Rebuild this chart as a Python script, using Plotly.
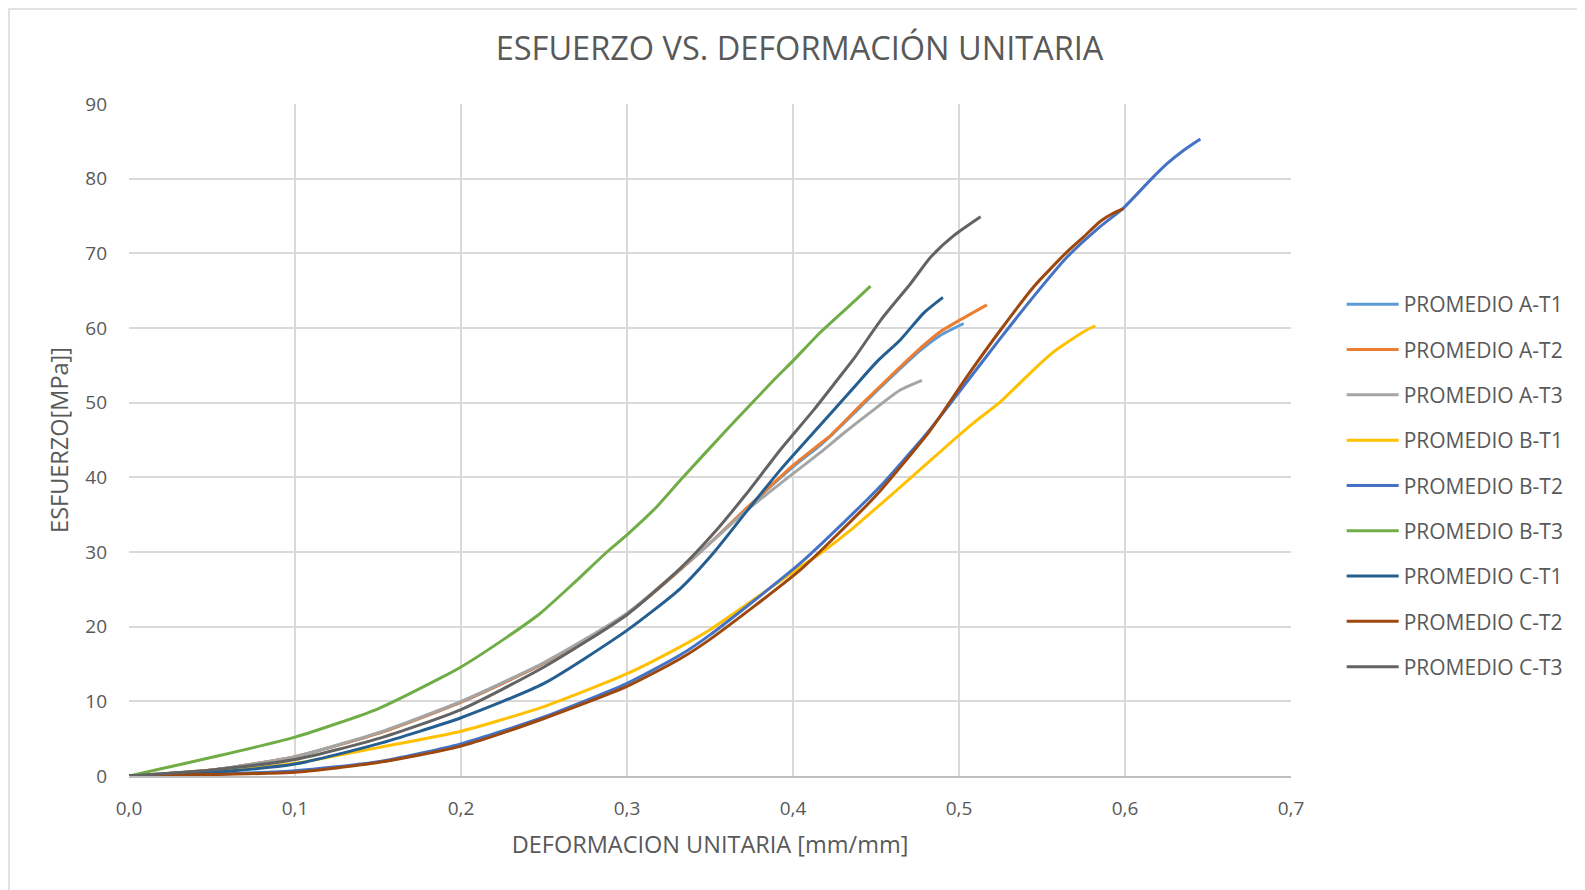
import plotly.graph_objects as go

# ---- data ----
a_t1_x = [0, 0.05, 0.1, 0.15, 0.2, 0.25, 0.3, 0.35, 0.3723, 0.4, 0.4164, 0.4225, 0.4405, 0.4586, 0.4767, 0.4887, 0.5028]
a_t1_y = [0, 0.8, 2.6, 5.7, 9.9, 15.1, 21.7, 31.2, 35.9, 41.4, 44.3, 45.5, 49.4, 53.3, 57.0, 59.0, 60.6]

a_t2_x = [0, 0.05, 0.1, 0.15, 0.2, 0.25, 0.3, 0.35, 0.3723, 0.4, 0.4164, 0.4225, 0.4405, 0.4586, 0.4767, 0.4887, 0.5008, 0.5168]
a_t2_y = [0, 0.8, 2.6, 5.7, 9.9, 15.1, 21.7, 31.2, 35.9, 41.6, 44.5, 45.6, 49.6, 53.5, 57.3, 59.5, 61.1, 63.1]

a_t3_x = [0, 0.05, 0.1, 0.15, 0.2, 0.25, 0.3, 0.35, 0.3723, 0.4, 0.4164, 0.4305, 0.4466, 0.4646, 0.4777]
a_t3_y = [0, 0.8, 2.6, 5.8, 10.0, 15.2, 21.8, 31.2, 35.6, 40.5, 43.3, 45.9, 48.7, 51.7, 53.0]

b_t1_x = [0, 0.05, 0.1, 0.15, 0.2, 0.25, 0.3, 0.332, 0.35, 0.4044, 0.4164, 0.4345, 0.4646, 0.4967, 0.5088, 0.5249, 0.5449, 0.557, 0.5751, 0.5821]
b_t1_y = [0, 0.5, 1.7, 3.8, 6.0, 9.3, 13.7, 17.3, 19.6, 28.0, 29.8, 32.9, 38.7, 45.0, 47.3, 50.1, 54.4, 56.8, 59.5, 60.3]

b_t2_x = [0, 0.05, 0.1, 0.15, 0.2, 0.25, 0.3, 0.332, 0.35, 0.4044, 0.4446, 0.4526, 0.4807, 0.5048, 0.5249, 0.5449, 0.5651, 0.5852, 0.5992, 0.6152, 0.6253, 0.6354, 0.6454]
b_t2_y = [0, 0.25, 0.7, 1.9, 4.3, 7.9, 12.4, 16.2, 18.9, 28.5, 37.0, 38.8, 45.9, 52.8, 58.6, 64.2, 69.5, 73.6, 76.1, 79.8, 82.0, 83.8, 85.3]

b_t3_x = [0, 0.02, 0.05, 0.1, 0.15, 0.1875, 0.2, 0.2277, 0.2478, 0.2678, 0.2879, 0.3, 0.3181, 0.3321, 0.3602, 0.3883, 0.4, 0.4164, 0.4385, 0.4467]
b_t3_y = [0, 1.0, 2.5, 5.2, 9.0, 13.1, 14.6, 18.6, 21.8, 25.8, 30.0, 32.3, 36.1, 39.6, 46.4, 53.0, 55.6, 59.4, 63.9, 65.6]

c_t1_x = [0, 0.05, 0.1, 0.15, 0.2, 0.25, 0.3, 0.3321, 0.3522, 0.3723, 0.3924, 0.4124, 0.4345, 0.4506, 0.4646, 0.4787, 0.4903]
c_t1_y = [0, 0.5, 1.6, 4.3, 7.8, 12.4, 19.5, 25.1, 29.9, 35.5, 41.0, 46.0, 51.5, 55.5, 58.4, 62.0, 64.1]

c_t2_x = [0, 0.05, 0.1, 0.15, 0.2, 0.25, 0.3, 0.332, 0.35, 0.4044, 0.4446, 0.4526, 0.4827, 0.5048, 0.5249, 0.5449, 0.5651, 0.5751, 0.5852, 0.5931, 0.5992]
c_t2_y = [0, 0.2, 0.5, 1.8, 4.0, 7.7, 12.0, 15.7, 18.3, 27.6, 36.3, 38.2, 46.3, 53.5, 59.7, 65.5, 70.2, 72.2, 74.3, 75.4, 76.0]

c_t3_x = [0, 0.05, 0.1, 0.15, 0.2, 0.25, 0.3, 0.3321, 0.3522, 0.3723, 0.3924, 0.4124, 0.4265, 0.437, 0.453, 0.471, 0.483, 0.497, 0.513]
c_t3_y = [0, 0.8, 2.2, 5.0, 8.9, 14.6, 21.6, 27.8, 32.5, 37.9, 43.7, 49.0, 53.0, 56.0, 61.1, 66.0, 69.5, 72.4, 74.9]

series_names = ["PROMEDIO A-T1", "PROMEDIO A-T2", "PROMEDIO A-T3",
                "PROMEDIO B-T1", "PROMEDIO B-T2", "PROMEDIO B-T3",
                "PROMEDIO C-T1", "PROMEDIO C-T2", "PROMEDIO C-T3"]
series_x = [a_t1_x, a_t2_x, a_t3_x, b_t1_x, b_t2_x, b_t3_x, c_t1_x, c_t2_x, c_t3_x]
series_y = [a_t1_y, a_t2_y, a_t3_y, b_t1_y, b_t2_y, b_t3_y, c_t1_y, c_t2_y, c_t3_y]
colors = ["#5B9BD5", "#ED7D31", "#A5A5A5", "#FFC000", "#4472C4",
          "#70AD47", "#255E91", "#9E480E", "#636363"]

x_ticks = [0, 0.1, 0.2, 0.3, 0.4, 0.5, 0.6, 0.7]
y_ticks = [0, 10, 20, 30, 40, 50, 60, 70, 80, 90]

FONT = "Open Sans"
TXT = "#595959"

fig = go.Figure()
for i, (name, xs, ys, col) in enumerate(zip(series_names, series_x, series_y, colors)):
    fig.add_trace(go.Scatter(
        x=xs, y=ys, name=name, mode="lines", legendgroup=f"g{i}",
        line=dict(color=col, width=3, shape="spline", smoothing=0.6),
    ))

fig.update_layout(
    width=1585, height=890,
    margin=dict(l=121, r=302, t=96, b=122),
    paper_bgcolor="white", plot_bgcolor="white",
    separators=",.",
    font=dict(family=FONT, color=TXT, size=19),
    title=dict(text="ESFUERZO VS. DEFORMACIÓN UNITARIA",
               font=dict(family=FONT, size=32.5, color=TXT),
               x=0.4994, xanchor="center", y=1 - 41 / 890, yanchor="middle",
               xref="container", yref="container"),
    legend=dict(x=1.0436, xanchor="left", y=0.732, yanchor="top",
                font=dict(family=FONT, size=21, color=TXT),
                traceorder="grouped", tracegroupgap=15, itemwidth=52,
                bgcolor="rgba(0,0,0,0)"),
    showlegend=True,
)

fig.update_xaxes(
    range=[0, 0.7], tickvals=x_ticks, tickformat=".1f",
    showgrid=True, gridcolor="#D9D9D9", gridwidth=1.5,
    showline=True, linecolor="#BFBFBF", linewidth=1.5,
    zeroline=False, ticks="", ticklabelstandoff=14,
    tickfont=dict(size=19, color=TXT),
    title=dict(text="DEFORMACION UNITARIA [mm/mm]", font=dict(size=23.5, color=TXT), standoff=17),
)
fig.update_yaxes(
    range=[0, 90], tickvals=y_ticks,
    showgrid=True, gridcolor="#D9D9D9", gridwidth=1.5,
    showline=False, zeroline=False, ticks="", ticklabelstandoff=21,
    tickfont=dict(size=19, color=TXT),
    title=dict(text="ESFUERZO[MPa]]", font=dict(size=23.5, color=TXT), standoff=10),
)

# chart-area border (top-left corner visible in the reference)
fig.add_shape(type="rect", xref="paper", yref="paper",
              x0=(1 - 121) / 1162, x1=3, y0=-3, y1=(768 - 1) / 672,
              line=dict(color="#D9D9D9", width=1.5), layer="below")

fig.write_html("out.html")
